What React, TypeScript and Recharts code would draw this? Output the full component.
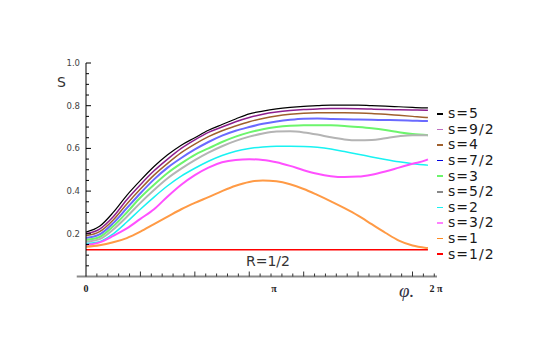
import { LineChart, Line, XAxis, YAxis, ReferenceLine, Legend } from 'recharts';

// angle grid (0 .. 2π)
const phi = [0, 0.25, 0.5, 0.75, 1, 1.25, 1.5, 1.75, 2, 2.25, 2.5, 2.75, 3, 3.25, 3.5, 3.75, 4, 4.25, 4.5, 4.75, 5, 5.25, 5.5, 5.75, 6, 6.25, 6.283];

const s5 = [0.208, 0.235, 0.3, 0.38, 0.45, 0.515, 0.57, 0.615, 0.65, 0.685, 0.712, 0.738, 0.762, 0.775, 0.785, 0.792, 0.797, 0.8, 0.803, 0.803, 0.803, 0.8, 0.798, 0.795, 0.792, 0.79, 0.79];
const s9_2 = [0.2, 0.222, 0.28, 0.36, 0.43, 0.495, 0.55, 0.6, 0.64, 0.675, 0.7, 0.725, 0.745, 0.76, 0.77, 0.777, 0.782, 0.785, 0.787, 0.787, 0.786, 0.784, 0.782, 0.781, 0.78, 0.779, 0.779];
const s4 = [0.191, 0.21, 0.265, 0.34, 0.41, 0.475, 0.53, 0.58, 0.62, 0.655, 0.683, 0.705, 0.725, 0.74, 0.752, 0.76, 0.765, 0.767, 0.767, 0.767, 0.766, 0.764, 0.76, 0.755, 0.75, 0.745, 0.745];
const s7_2 = [0.18, 0.197, 0.25, 0.32, 0.39, 0.455, 0.51, 0.555, 0.595, 0.63, 0.66, 0.683, 0.7, 0.715, 0.726, 0.734, 0.739, 0.74, 0.738, 0.736, 0.735, 0.734, 0.733, 0.732, 0.73, 0.728, 0.728];
const s3 = [0.171, 0.185, 0.235, 0.3, 0.37, 0.43, 0.485, 0.53, 0.57, 0.6, 0.63, 0.655, 0.675, 0.69, 0.7, 0.706, 0.709, 0.709, 0.708, 0.705, 0.7, 0.694, 0.686, 0.676, 0.667, 0.663, 0.662];
const s5_2 = [0.163, 0.175, 0.22, 0.28, 0.345, 0.405, 0.46, 0.505, 0.545, 0.58, 0.61, 0.635, 0.655, 0.67, 0.679, 0.68, 0.675, 0.665, 0.652, 0.642, 0.638, 0.639, 0.648, 0.657, 0.662, 0.662, 0.662];
const s2 = [0.154, 0.163, 0.2, 0.255, 0.315, 0.372, 0.425, 0.47, 0.507, 0.54, 0.567, 0.587, 0.6, 0.607, 0.61, 0.61, 0.609, 0.605, 0.597, 0.585, 0.573, 0.56, 0.548, 0.537, 0.528, 0.522, 0.521];
const s3_2 = [0.147, 0.16, 0.19, 0.225, 0.27, 0.315, 0.375, 0.43, 0.475, 0.51, 0.535, 0.546, 0.549, 0.546, 0.535, 0.518, 0.498, 0.481, 0.47, 0.466, 0.468, 0.477, 0.492, 0.51, 0.528, 0.545, 0.549];
const s1 = [0.139, 0.146, 0.16, 0.18, 0.21, 0.245, 0.28, 0.315, 0.345, 0.372, 0.4, 0.425, 0.443, 0.45, 0.446, 0.432, 0.41, 0.382, 0.352, 0.32, 0.285, 0.245, 0.205, 0.168, 0.145, 0.134, 0.133];
const s1_2 = [0.125, 0.125, 0.125, 0.125, 0.125, 0.125, 0.125, 0.125, 0.125, 0.125, 0.125, 0.125, 0.125, 0.125, 0.125, 0.125, 0.125, 0.125, 0.125, 0.125, 0.125, 0.125, 0.125, 0.125, 0.125, 0.125, 0.125];

const series = [
  { key: 's5', name: 's=5', values: s5, color: '#000000', legend: '#000000', width: 1.2 },
  { key: 's9_2', name: 's=9/2', values: s9_2, color: '#8e1f8e', legend: '#c070c0', width: 1.5 },
  { key: 's4', name: 's=4', values: s4, color: '#a0602d', legend: '#a0602d', width: 1.5 },
  { key: 's7_2', name: 's=7/2', values: s7_2, color: '#6a6aff', legend: '#0000e0', width: 2 },
  { key: 's3', name: 's=3', values: s3, color: '#6cf56c', legend: '#6cf56c', width: 2 },
  { key: 's5_2', name: 's=5/2', values: s5_2, color: '#b4b4b4', legend: '#888888', width: 2 },
  { key: 's2', name: 's=2', values: s2, color: '#19f2f2', legend: '#19f2f2', width: 1.5 },
  { key: 's3_2', name: 's=3/2', values: s3_2, color: '#ff50ff', legend: '#ff80ff', width: 2 },
  { key: 's1', name: 's=1', values: s1, color: '#ff9a45', legend: '#ff8a20', width: 2 },
  { key: 's1_2', name: 's=1/2', values: s1_2, color: '#ff0000', legend: '#ff0000', width: 1.5 },
];

const data = phi.map((p, i) => {
  const row: Record<string, number> = { phi: p };
  series.forEach((s) => { row[s.key] = s.values[i]; });
  return row;
});

// minor ticks every 0.2, labelled ticks at 0, π, 2π
const xMinor = Array.from({ length: 32 }, (_, i) => Math.round((i + 1) * 2) / 10);
const xLabels = [
  { value: 0, text: '0', dx: 0 },
  { value: Math.PI, text: 'π', dx: 17 },
  { value: 2 * Math.PI, text: '2 π', dx: 8 },
];
const xTicks = [...xMinor, ...xLabels.map((l) => l.value)].sort((a, b) => a - b);
const yTicks = [0.05, 0.1, 0.15, 0.2, 0.25, 0.3, 0.35, 0.4, 0.45, 0.5, 0.55, 0.6, 0.65, 0.7, 0.75, 0.8, 0.85, 0.9, 0.95, 1.0];

const XTick = (props: any) => {
  const { x, y, payload } = props;
  const v = payload.value;
  const lab = xLabels.find((l) => Math.abs(l.value - v) < 1e-9);
  if (lab) {
    return (
      <text x={x + lab.dx} y={y + 15} textAnchor="middle" fontSize={10} fontFamily="Liberation Serif" fontWeight="bold" fill="#222">
        {lab.text}
      </text>
    );
  }
  const major = Math.abs(v - Math.round(v)) < 1e-9;
  return <line x1={x} x2={x} y1={y} y2={y - (major ? 5 : 3)} stroke="#333" />;
};

const YTick = (props: any) => {
  const { x, y, payload } = props;
  const v = payload.value;
  const major = Math.abs(v * 5 - Math.round(v * 5)) < 1e-6;
  return (
    <g>
      <line x1={x} x2={x + (major ? 5 : 3)} y1={y} y2={y} stroke="#000" />
      {major && (
        <text x={x - 6} y={y + 3} textAnchor="end" fontSize={8.5} fontFamily="DejaVu Sans" fill="#444">
          {v.toFixed(1)}
        </text>
      )}
    </g>
  );
};

const LegendList = (props: any) => {
  const items = [...(props.payload || [])].sort(
    (a: any, b: any) => series.findIndex((s) => s.key === a.dataKey) - series.findIndex((s) => s.key === b.dataKey),
  );
  return (
    <div>
      {items.map((p: any) => {
        const s = series.find((q) => q.key === p.dataKey);
        return (
          <div key={p.value} style={{ height: 15.6, display: 'flex', alignItems: 'center' }}>
            <span style={{ display: 'block', width: 6, height: 1.5, background: s ? s.legend : p.color, marginLeft: 1, marginRight: 5 }} />
            <span style={{ fontFamily: 'DejaVu Sans', fontSize: 14, letterSpacing: 1, color: '#1a1a1a', lineHeight: '15px' }}>{p.value}</span>
          </div>
        );
      })}
    </div>
  );
};

export default function App() {
  return (
    <div style={{ position: 'absolute', left: 0, top: 0, width: 554, height: 347, background: '#fff' }}>
      <LineChart width={554} height={347} data={data} margin={{ top: 63, right: 117, bottom: 40.5, left: 26 }}>
        <ReferenceLine
          segment={[{ x: -0.17, y: 0 }, { x: 6.45, y: 0 }]}
          stroke="#8a8a8a"
          strokeWidth={2}
          ifOverflow="visible"
        />
        <XAxis
          type="number"
          dataKey="phi"
          domain={[0, 6.45]}
          allowDataOverflow
          ticks={xTicks}
          interval={0}
          tick={<XTick />}
          tickLine={false}
          axisLine={false}
          tickSize={0}
          tickMargin={0}
          height={30}
        />
        <YAxis
          type="number"
          domain={[0, 1]}
          ticks={yTicks}
          interval={0}
          tick={<YTick />}
          tickLine={false}
          axisLine={{ stroke: '#000', strokeWidth: 1 }}
          tickSize={0}
          tickMargin={0}
          width={60}
        />
        <Legend
          layout="vertical"
          align="center"
          verticalAlign="middle"
          itemSorter={null}
          wrapperStyle={{ left: 436, top: 106, width: 110 }}
          content={<LegendList />}
        />
        {series.map((s) => (
          <Line
            key={s.key}
            type="monotone"
            dataKey={s.key}
            name={s.name}
            stroke={s.color}
            strokeWidth={s.width}
            dot={false}
            isAnimationActive={false}
          />
        ))}
      </LineChart>
      <svg width={554} height={347} style={{ position: 'absolute', left: 0, top: 0, pointerEvents: 'none' }}>
        <text x={57} y={87} fontSize={14} fontFamily="DejaVu Sans" fill="#333">S</text>
        <text x={268} y={266} textAnchor="middle" fontSize={14} fontFamily="DejaVu Sans" fill="#333">R=1/2</text>
        <text x={399} y={297} fontSize={19} fontStyle="italic" fontFamily="Liberation Serif" fill="#334">φ.</text>
      </svg>
    </div>
  );
}
